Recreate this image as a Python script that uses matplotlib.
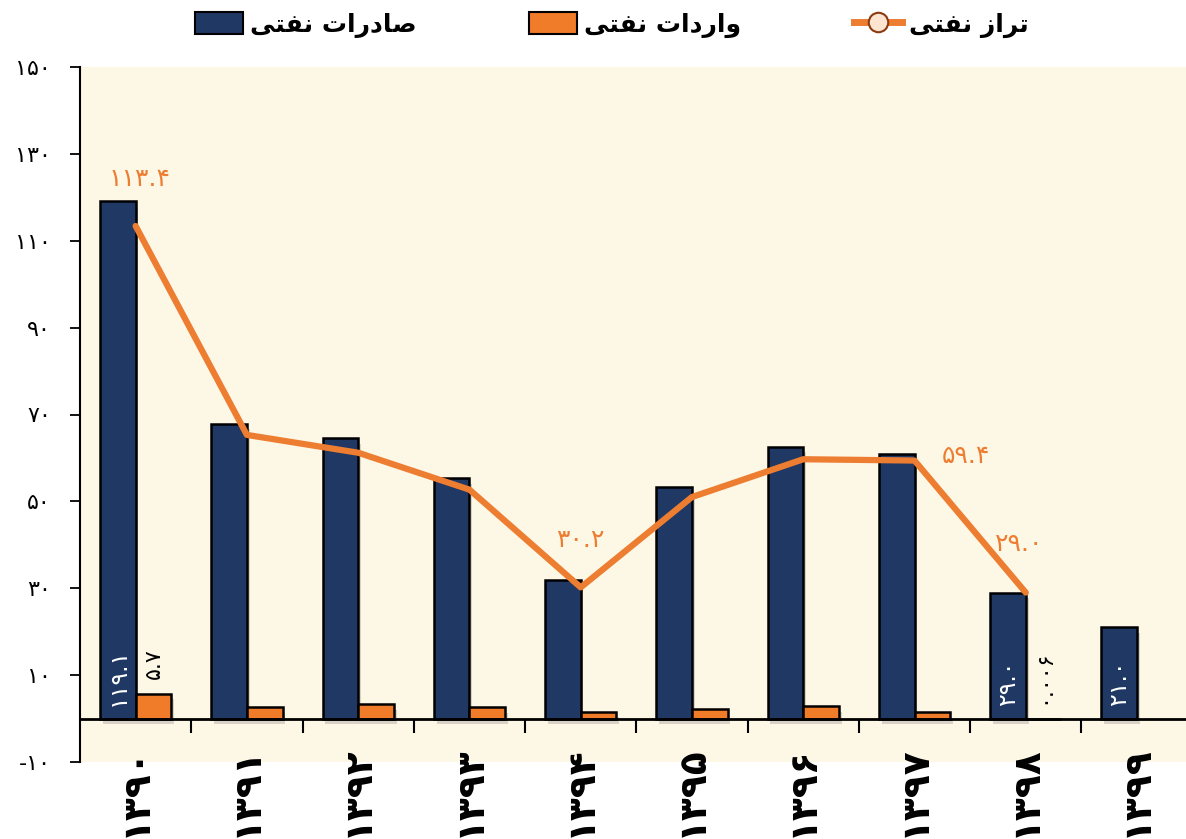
import numpy as np
import matplotlib
matplotlib.use('Agg')
import matplotlib.pyplot as plt
import matplotlib.patheffects as pe
from matplotlib.patches import Patch
from matplotlib.lines import Line2D

plt.rcParams['font.family'] = ['DejaVu Sans']

# data (billion dollars)
years = ['1390', '1391', '1392', '1393', '1394', '1395', '1396', '1397', '1398', '1399']
exports = [119.1, 67.9, 64.5, 55.3, 31.8, 53.2, 62.6, 60.9, 29.0, 21.0]
imports = [5.7, 2.6, 3.3, 2.6, 1.6, 2.2, 2.9, 1.5, 0.006, np.nan]
balance = [113.4, 65.3, 61.2, 52.7, 30.2, 51.0, 59.7, 59.4, 29.0, np.nan]

export_labels = {0: '119.1', 8: '29.0', 9: '21.0'}
import_labels = {0: '5.7', 8: '0.006'}
balance_labels = {0: '113.4', 4: '30.2', 7: '59.4', 8: '29.0'}

# legend names (presentation forms, visual order)
name_exports = '\ufef0\ufe98\ufed4\ufee7 \ufe95\ufe8d\ufead\ufea9\ufe8e\ufebb'   # صادرات نفتی
name_imports = '\ufef0\ufe98\ufed4\ufee7 \ufe95\ufe8d\ufea9\ufead\ufe8d\ufeed'   # واردات نفتی
name_balance = '\ufef0\ufe98\ufed4\ufee7 \ufeaf\ufe8d\ufeae\ufe97'               # تراز نفتی

FA = str.maketrans('0123456789', '۰۱۲۳۴۵۶۷۸۹')
def fa(s):
    return str(s).translate(FA)

navy = '#203864'
orange_bar = '#f07c2a'
orange_line = '#ed7d31'
bg = '#fdf7e6'

fig = plt.figure(figsize=(11.86, 8.39), dpi=100)
ax = fig.add_axes([80 / 1186, 77 / 839, 1 - 80 / 1186, 695 / 839])
ax.set_facecolor(bg)

x = np.arange(len(years))
w = 0.32
shadow = [pe.SimplePatchShadow(offset=(2, -4), shadow_rgbFace='#666666', alpha=0.25), pe.Normal()]

b1 = ax.bar(x - w / 2, exports, w, color=navy, edgecolor='black', linewidth=1.8, zorder=2)
b2 = ax.bar(x + w / 2, imports, w, color=orange_bar, edgecolor='black', linewidth=1.8, zorder=2)
for p in list(b1) + list(b2):
    p.set_path_effects(shadow)

ax.plot(x, balance, color=orange_line, linewidth=4.5, solid_capstyle='round', zorder=4)

# data labels
for i, t in export_labels.items():
    ax.text(x[i] - w / 2, 3.0, fa(t), rotation=90, ha='center', va='bottom',
            color='white', fontsize=17, zorder=5)
for i, t in import_labels.items():
    ax.text(x[i] + w / 2, imports[i] + 3.4, fa(t), rotation=90, ha='center', va='bottom',
            color='black', fontsize=16, zorder=5)
offsets = {0: (3, 34), 4: (0, 34), 7: (37, 3), 8: (-5, 35)}
for i, t in balance_labels.items():
    ax.annotate(fa(t), (x[i], balance[i]), xytext=offsets[i], textcoords='offset points',
                ha='center', va='center', color=orange_line, fontsize=18, zorder=5)

# axes
ax.set_xlim(-0.5, 9.44)
ax.set_ylim(-10, 150)
yt = np.arange(-10, 151, 20)
ax.set_yticks(yt)
ax.set_yticklabels([('-' + fa(-v)) if v < 0 else fa(v) for v in yt], fontsize=16)
ax.tick_params(axis='y', length=7, width=1.3, pad=14, direction='out')

ax.spines['bottom'].set_position(('data', 0))
ax.spines['bottom'].set_linewidth(2)
ax.spines['left'].set_linewidth(1.5)
ax.spines['top'].set_visible(False)
ax.spines['right'].set_visible(False)

ax.set_xticks(x)
ax.set_xticklabels([fa(y) for y in years], rotation=90, fontsize=27, fontweight='bold')
ax.tick_params(axis='x', which='major', length=0, pad=19)
ax.set_xticks(x[:-1] + 0.5, minor=True)
ax.tick_params(axis='x', which='minor', length=10, width=1.5, direction='out')

# legend
handles = [
    Patch(facecolor=navy, edgecolor='black', linewidth=1.5),
    Patch(facecolor=orange_bar, edgecolor='black', linewidth=1.5),
    Line2D([], [], color=orange_line, linewidth=5, marker='o', markersize=14,
           markerfacecolor='#fde4d0', markeredgecolor='#8b3a0f', markeredgewidth=1.5),
]
fig.legend(handles, [name_exports, name_imports, name_balance], loc='upper center',
           bbox_to_anchor=(612 / 1186, 1.012), ncol=3, frameon=False,
           prop={'size': 18, 'weight': 'bold'}, handlelength=1.9, handleheight=0.95,
           columnspacing=4.5, handletextpad=0.3)

fig.savefig('out.png', dpi=100)
